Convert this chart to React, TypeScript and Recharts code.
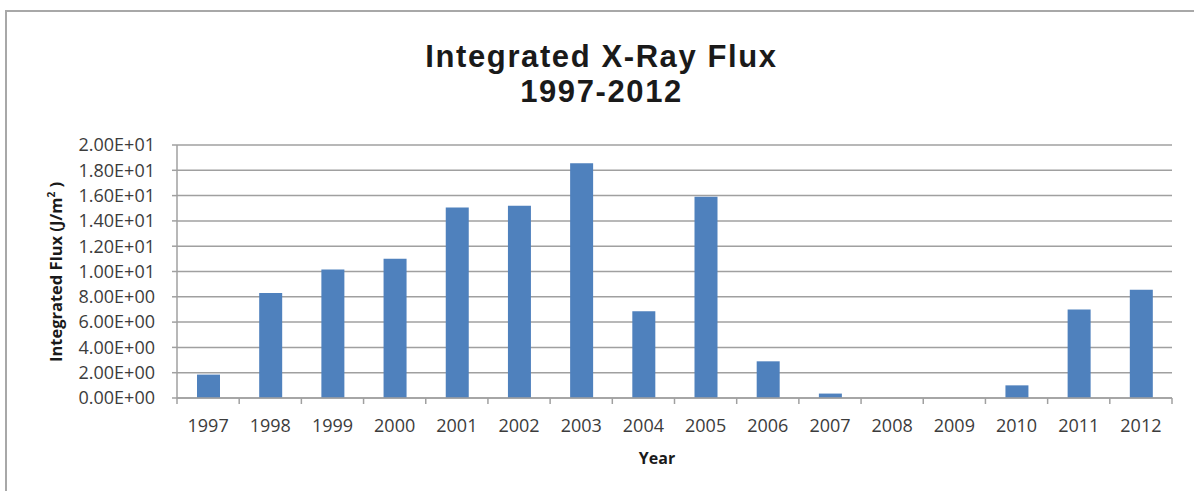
import { BarChart, Bar, XAxis, YAxis, CartesianGrid } from 'recharts'

const years = ['1997', '1998', '1999', '2000', '2001', '2002', '2003', '2004', '2005', '2006', '2007', '2008', '2009', '2010', '2011', '2012']
const flux = [1.85, 8.3, 10.15, 11.0, 15.05, 15.2, 18.55, 6.85, 15.9, 2.9, 0.35, 0, 0, 1.0, 7.0, 8.55]
const yTicks = [0, 2, 4, 6, 8, 10, 12, 14, 16, 18, 20]

const data = years.map((year, i) => ({ year, flux: flux[i] }))

const FONT = "'Open Sans', sans-serif"
const TITLE_FONT = "'Liberation Sans', Arial, sans-serif"
const GRID = '#a0a0a0'
const W = 1194
const H = 491
const M = { top: 145, right: 22, left: 0, bottom: 0 }
const Y_AXIS_W = 177
const X_AXIS_H = 93

// Excel-style scientific labels: 2.00E+01
const sci = (v: number) => {
  const [m, e] = v.toExponential(2).split('e')
  const n = Number(e)
  return `${m}E${n < 0 ? '-' : '+'}${String(Math.abs(n)).padStart(2, '0')}`
}

// year label plus tick marks on the category boundaries
function YearTick(props: any) {
  const { x, y, payload, index } = props
  const half = payload?.offset || (W - Y_AXIS_W - M.right) / years.length / 2
  return (
    <g>
      <line x1={x - half} x2={x - half} y1={y} y2={y + 6} stroke={GRID} strokeWidth={1.5} />
      {index === years.length - 1 && (
        <line x1={x + half} x2={x + half} y1={y} y2={y + 6} stroke={GRID} strokeWidth={1.5} />
      )}
      <text x={x} y={y + 34} textAnchor="middle" fill="#3c3c3c" fontSize={18} fontFamily={FONT}>
        {payload.value}
      </text>
    </g>
  )
}

const titleLine = (top: number) => ({
  position: 'absolute' as const, left: 0, width: 1203, top, textAlign: 'center' as const,
  fontFamily: TITLE_FONT, fontWeight: 700, fontSize: 31, letterSpacing: 1.6, lineHeight: '35px', color: '#1a1a1a',
})

export default function App() {
  return (
    <div style={{ position: 'absolute', left: 0, top: 0, width: W, height: H, background: '#fff', fontFamily: FONT }}>
      <div style={{ position: 'absolute', left: 5, top: 10, right: 0, bottom: 0, borderLeft: '2px solid #a8a8a8', borderTop: '2px solid #a8a8a8' }} />
      <div style={titleLine(38.5)}>Integrated X-Ray Flux</div>
      <div style={titleLine(73.5)}>1997-2012</div>
      <BarChart width={W} height={H} data={data} margin={M} style={{ position: 'absolute', left: 0, top: 0 }}>
        <CartesianGrid vertical={false} stroke={GRID} strokeWidth={1.5} />
        <XAxis
          dataKey="year"
          height={X_AXIS_H}
          stroke={GRID}
          strokeWidth={1.5}
          tickLine={false}
          tickSize={0}
          tickMargin={0}
          interval={0}
          tick={<YearTick />}
        />
        <YAxis
          width={Y_AXIS_W}
          domain={[0, 20]}
          ticks={yTicks}
          interval={0}
          tickFormatter={sci}
          stroke={GRID}
          strokeWidth={1.5}
          tickSize={5}
          tickMargin={17}
          tick={{ fill: '#3c3c3c', fontSize: 18, fontFamily: FONT }}
        />
        <Bar dataKey="flux" fill="#4F81BD" barSize={23} isAnimationActive={false} />
      </BarChart>
      <div style={{ position: 'absolute', left: 55, top: 271.5, transform: 'translate(-50%, -50%) rotate(-90deg)', whiteSpace: 'nowrap', fontWeight: 700, fontSize: 16.5, color: '#1a1a1a' }}>
        Integrated Flux (J/m<sup style={{ fontSize: 10 }}>2</sup> )
      </div>
      <div style={{ position: 'absolute', left: 657, top: 458, transform: 'translate(-50%, -50%)', fontWeight: 700, fontSize: 16, color: '#1a1a1a' }}>
        Year
      </div>
    </div>
  )
}
